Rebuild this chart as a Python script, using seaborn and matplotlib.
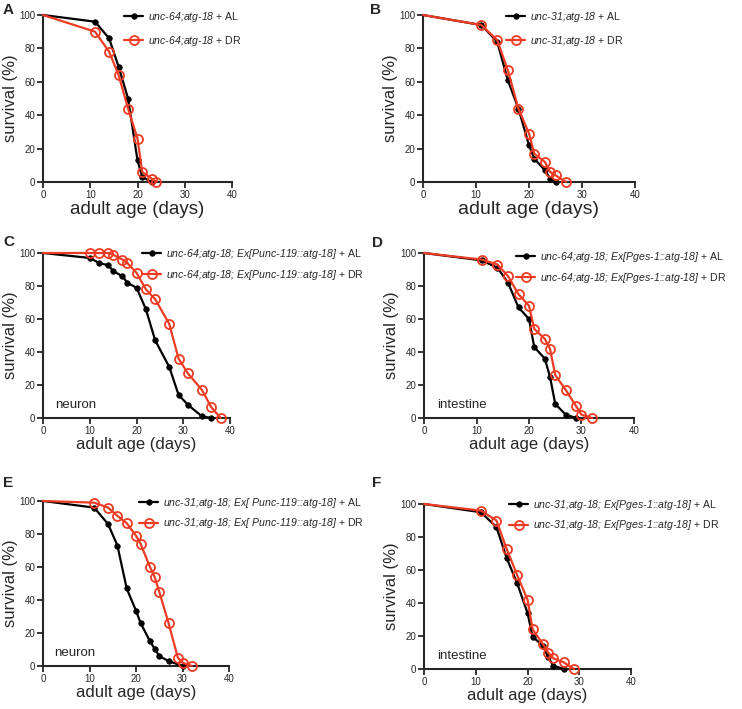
import numpy as np
import pandas as pd
import seaborn as sns
import matplotlib.pyplot as plt

# survival data (day, % alive)
a_days_al = [0, 11, 14, 16, 18, 20, 21, 23]
a_surv_al = [100, 96, 86, 69, 50, 13, 3, 0]
a_days_dr = [0, 11, 14, 16, 18, 20, 21, 23, 24]
a_surv_dr = [100, 90, 78, 64, 44, 26, 6, 2, 0]

b_days_al = [0, 11, 14, 16, 18, 20, 21, 23, 24, 25]
b_surv_al = [100, 94, 84, 61, 44, 22, 14, 7, 2, 0]
b_days_dr = [0, 11, 14, 16, 18, 20, 21, 23, 24, 25, 27]
b_surv_dr = [100, 94, 85, 67, 44, 29, 17, 12, 6, 4, 0]

c_days_al = [0, 10, 12, 14, 15, 17, 18, 20, 22, 24, 27, 29, 31, 34, 36]
c_surv_al = [100, 97, 94, 92.5, 89, 86, 82, 79, 66, 47, 31, 14, 8, 1, 0]
c_days_dr = [0, 10, 12, 14, 15, 17, 18, 20, 22, 24, 27, 29, 31, 34, 36, 38]
c_surv_dr = [100, 100, 100, 100, 99, 96, 94, 88, 78, 72, 57, 36, 27, 17, 6.5, 0]

d_days_al = [0, 11, 14, 16, 18, 20, 21, 23, 24, 25, 27, 29]
d_surv_al = [100, 95.5, 91, 82, 67, 60, 43, 36, 25, 8.5, 2, 0]
d_days_dr = [0, 11, 14, 16, 18, 20, 21, 23, 24, 25, 27, 29, 30, 32]
d_surv_dr = [100, 96, 93, 86, 75, 68, 54, 48, 42, 26, 17, 7, 2, 0]

e_days_al = [0, 11, 14, 16, 18, 20, 21, 23, 24, 25, 27, 30]
e_surv_al = [100, 96, 86, 73, 47, 33.5, 26, 15, 10.5, 6, 3, 0]
e_days_dr = [0, 11, 14, 16, 18, 20, 21, 23, 24, 25, 27, 29, 30, 32]
e_surv_dr = [100, 99, 96, 91, 86.5, 79, 74, 60, 54, 45, 26, 5, 2, 0]

f_days_al = [0, 11, 14, 16, 18, 20, 21, 23, 24, 25, 27]
f_surv_al = [100, 95, 86, 67, 52, 34, 19.5, 14, 7, 2, 0]
f_days_dr = [0, 11, 14, 16, 18, 20, 21, 23, 24, 25, 27, 29]
f_surv_dr = [100, 96, 90, 72.5, 57, 42, 24, 15, 10, 6.5, 4, 0]

strains = ['unc-64;atg-18', 'unc-31;atg-18',
           'unc-64;atg-18; Ex[Punc-119::atg-18]', 'unc-64;atg-18; Ex[Pges-1::atg-18]',
           'unc-31;atg-18; Ex[ Punc-119::atg-18]', 'unc-31;atg-18; Ex[Pges-1::atg-18]']
tissue = [None, None, 'neuron', 'intestine', 'neuron', 'intestine']
letters = ['A', 'B', 'C', 'D', 'E', 'F']

sns.set_style('ticks')
plt.rcParams['font.family'] = ['Liberation Sans', 'DejaVu Sans']
plt.rcParams['mathtext.fontset'] = 'custom'
plt.rcParams['mathtext.rm'] = 'Liberation Sans'
plt.rcParams['mathtext.it'] = 'Liberation Sans:italic'

W, H = 742, 709
RED = '#ee3b24'
fig = plt.figure(figsize=(W / 100, H / 100), dpi=100)

# axes boxes in pixels: x0, x1, ytop, ybottom
boxes = [(43, 232, 15, 182), (423, 635, 15, 182),
         (43, 230, 253, 418), (424, 634, 253, 418),
         (43, 229, 501, 666), (424, 631, 504, 669)]
leg_pos = [(124, 10), (506, 10), (142, 247), (516, 250), (139, 496), (509, 498)]
leg_space = [0.95, 0.95, 0.65, 0.65, 0.6, 0.6]
letter_pos = [(3, 3), (370, 3), (3, 235), (372, 236), (3, 476), (372, 476)]
xlab_size = [13.5, 14, 12, 12, 12, 12]

series = [(a_days_al, a_surv_al, a_days_dr, a_surv_dr),
          (b_days_al, b_surv_al, b_days_dr, b_surv_dr),
          (c_days_al, c_surv_al, c_days_dr, c_surv_dr),
          (d_days_al, d_surv_al, d_days_dr, d_surv_dr),
          (e_days_al, e_surv_al, e_days_dr, e_surv_dr),
          (f_days_al, f_surv_al, f_days_dr, f_surv_dr)]

for i in range(6):
    x0, x1, yt, yb = boxes[i]
    ax = fig.add_axes([x0 / W, 1 - yb / H, (x1 - x0) / W, (yb - yt) / H])
    dal, sal, ddr, sdr = series[i]
    sns.lineplot(x=dal, y=sal, ax=ax, color='black', lw=1.6, marker='o', ms=4,
                 markeredgecolor='black', markeredgewidth=0.5, markevery=slice(1, None),
                 clip_on=False, label=strains[i] + r' $\mathrm{+\ AL}$', zorder=3)
    sns.lineplot(x=ddr, y=sdr, ax=ax, color=RED, lw=1.6, marker='o', ms=6.5,
                 markerfacecolor='none', markeredgecolor=RED, markeredgewidth=1.3,
                 markevery=slice(1, None), clip_on=False,
                 label=strains[i] + r' $\mathrm{+\ DR}$', zorder=4)
    ax.set_xlim(0, 40)
    ax.set_ylim(0, 100)
    ax.set_xticks([0, 10, 20, 30, 40])
    ax.set_yticks([0, 20, 40, 60, 80, 100])
    sns.despine(ax=ax)
    for s in ['left', 'bottom']:
        ax.spines[s].set_linewidth(1.5)
    ax.tick_params(direction='out', length=4, width=1.3, labelsize=7, pad=1.5)
    ax.set_xlabel('adult age (days)', fontsize=xlab_size[i], labelpad=1)
    ax.set_ylabel('survival (%)', fontsize=12, labelpad=1)
    if tissue[i]:
        ax.text(2.5, 8, tissue[i], fontsize=9.5, ha='left', va='center')
    lx, ly = leg_pos[i]
    ax.legend(loc='upper left', bbox_to_anchor=(lx / W, 1 - ly / H),
              bbox_transform=fig.transFigure, frameon=False,
              prop={'style': 'italic', 'size': 7.6, 'family': 'Liberation Sans'},
              handlelength=1.8, handletextpad=0.5, labelspacing=leg_space[i],
              borderpad=0, borderaxespad=0)
    px, py = letter_pos[i]
    fig.text(px / W, 1 - py / H, letters[i], fontsize=11, fontweight='bold',
             ha='left', va='top')

fig.savefig('out.png', dpi=100)
